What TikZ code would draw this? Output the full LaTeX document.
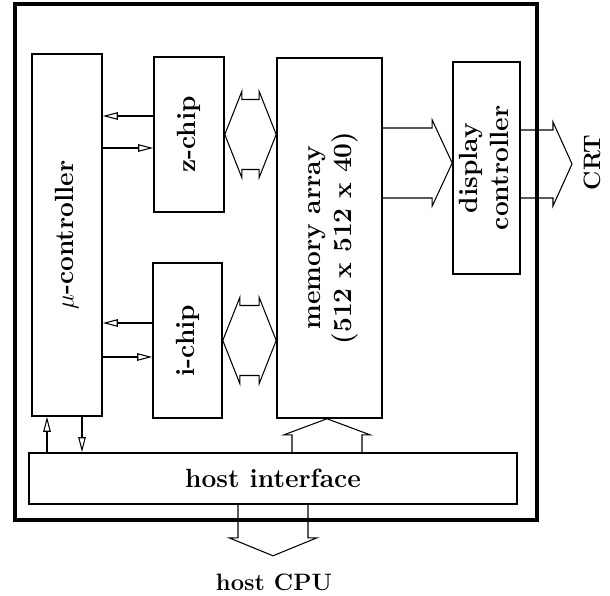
\documentclass[tikz,border=0pt]{standalone}
\usepackage{graphicx}
\usetikzlibrary{arrows.meta,calc,positioning}

\begin{document}
\begin{tikzpicture}[
  >=Latex,
  every node/.style={font=\fontsize{15}{18}\selectfont\bfseries,align=center},
  box/.style={draw,line width=0.9pt,inner sep=0pt},
  sig/.style={-{Triangle[open,length=3mm,width=1.5mm]},line width=0.6pt},
  bus/.style={line width=0.6pt,line join=miter},
  frame/.style={line width=1.8pt},
  outlabel/.style={font=\fontsize{13.5}{16}\selectfont\bfseries}
]
  \path[fill=white,use as bounding box] (0,0) rectangle (12.2,11.92);
  \draw[frame] (0.30,1.52) rectangle (10.74,11.84);

  \node[box,minimum width=1.40cm,minimum height=7.24cm] (mu) at (1.34,7.22)
    {\rotatebox{90}{$\mu$-controller}};
  \node[box,minimum width=1.40cm,minimum height=3.10cm] (zchip) at (3.78,9.23)
    {\rotatebox{90}{z-chip}};
  \node[box,minimum width=1.38cm,minimum height=3.10cm] (ichip) at (3.75,5.11)
    {\rotatebox{90}{i-chip}};
  \node[box,minimum width=2.10cm,minimum height=7.20cm] (mem) at (6.59,7.16)
    {\rotatebox{90}{\begin{tabular}{@{}c@{}}memory array\\(512 x 512 x 40)\end{tabular}}};
  \node[box,minimum width=1.34cm,minimum height=4.24cm] (disp) at (9.73,8.56)
    {\rotatebox{90}{\begin{tabular}{@{}c@{}}display\\controller\end{tabular}}};
  \node[box,minimum width=9.76cm,minimum height=1.02cm] (hostif) at (5.46,2.35)
    {host interface};
  \node[outlabel,rotate=90] (crt) at (11.84,8.67) {CRT};
  \node[outlabel] (cpu) at (5.48,0.27) {host CPU};

  % control lines
  \draw[sig] ($(zchip.west)+(0,0.37)$) -- ($(zchip.west -| mu.east)+(0,0.37)$);
  \draw[sig] ($(mu.east |- zchip.west)+(0,-0.27)$) -- ($(zchip.west)+(0,-0.27)$);
  \draw[sig] ($(ichip.west)+(0,0.35)$) -- ($(ichip.west -| mu.east)+(0,0.35)$);
  \draw[sig] ($(mu.east |- ichip.west)+(0,-0.33)$) -- ($(ichip.west)+(0,-0.33)$);
  \draw[sig] ($(mu.south |- hostif.north)+(-0.40,0)$) -- ($(mu.south)+(-0.40,0)$);
  \draw[sig] ($(mu.south)+(0.30,0)$) -- ($(mu.south |- hostif.north)+(0.30,0)$);

  % two-way buses to the memory
  \draw[bus] (zchip.east) -- ++(0.34,0.86) -- ++(0,-0.16)
    -- ($(zchip.east -| mem.west)+(-0.34,0.70)$) -- ++(0,0.16) -- (zchip.east -| mem.west)
    -- ++(-0.34,-0.86) -- ++(0,0.16) -- ($(zchip.east)+(0.34,-0.70)$) -- ++(0,-0.16) -- cycle;
  \draw[bus] (ichip.east) -- ++(0.34,0.86) -- ++(0,-0.16)
    -- ($(ichip.east -| mem.west)+(-0.34,0.70)$) -- ++(0,0.16) -- (ichip.east -| mem.west)
    -- ++(-0.34,-0.86) -- ++(0,0.16) -- ($(ichip.east)+(0.34,-0.70)$) -- ++(0,-0.16) -- cycle;

  % one-way buses
  \coordinate (dtip) at ($(disp.west)+(0,0.10)$);
  \draw[bus] ($(dtip -| mem.east)+(0,0.70)$) -- ($(dtip)+(-0.40,0.70)$) -- ++(0,0.16)
    -- (dtip) -- ++(-0.40,-0.86) -- ++(0,0.16) -- ($(dtip -| mem.east)+(0,-0.70)$);
  \coordinate (ctip) at (11.44,8.64);
  \draw[bus] ($(ctip -| disp.east)+(0,0.68)$) -- ($(ctip)+(-0.38,0.68)$) -- ++(0,0.16)
    -- (ctip) -- ++(-0.38,-0.84) -- ++(0,0.16) -- ($(ctip -| disp.east)+(0,-0.68)$);
  \coordinate (mtip) at ($(mem.south)+(-0.05,0)$);
  \draw[bus] ($(mtip |- hostif.north)+(-0.70,0)$) -- ($(mtip)+(-0.70,-0.32)$) -- ++(-0.16,0)
    -- (mtip) -- ++(0.86,-0.32) -- ++(-0.16,0) -- ($(mtip |- hostif.north)+(0.70,0)$);
  \coordinate (ptip) at ($(hostif.south)+(0,-1.02)$);
  \draw[bus] ($(hostif.south)+(-0.70,0)$) -- ($(ptip)+(-0.70,0.36)$) -- ++(-0.18,0)
    -- (ptip) -- ++(0.88,0.36) -- ++(-0.18,0) -- ($(hostif.south)+(0.70,0)$);
\end{tikzpicture}
\end{document}
